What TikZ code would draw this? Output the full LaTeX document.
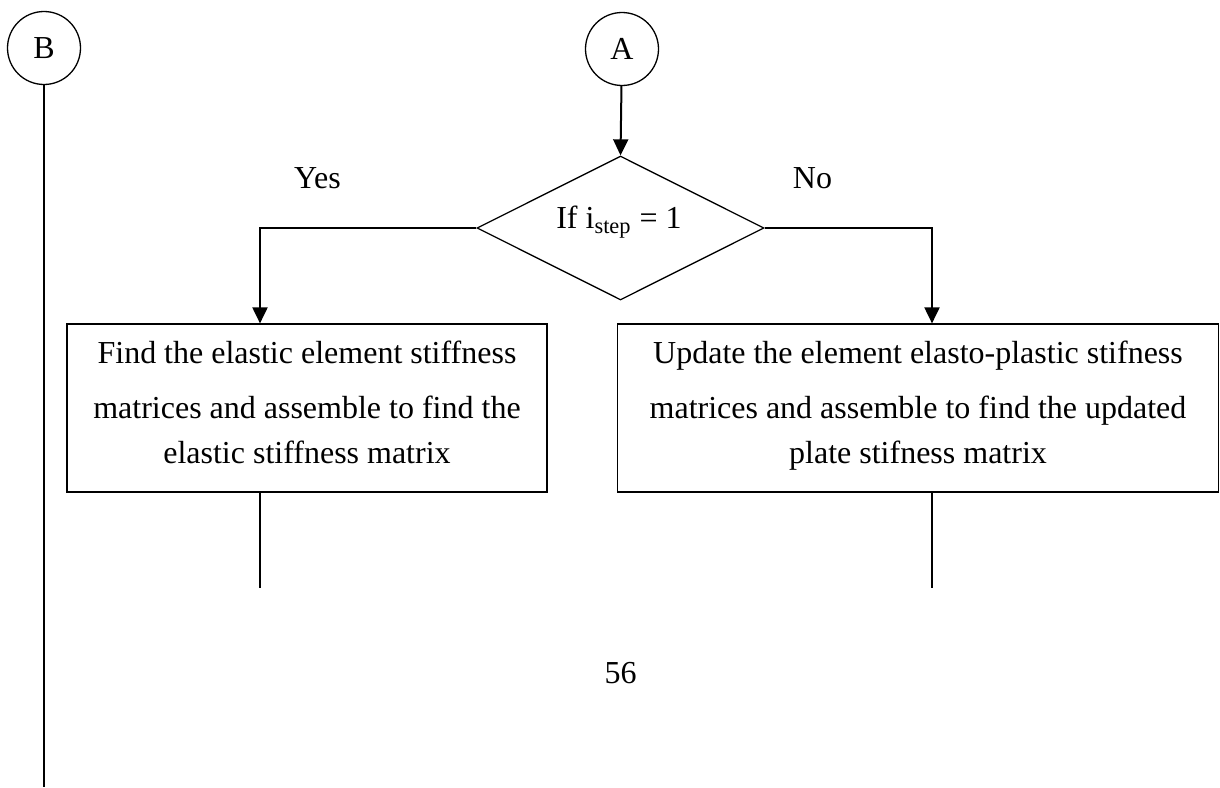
\documentclass[tikz,border=0pt]{standalone}
\usepackage{fontspec}
\setmainfont{Liberation Serif}
\usetikzlibrary{shapes.geometric,arrows.meta}
\begin{document}
\begin{tikzpicture}[x=0.5pt,y=-0.5pt,
  every node/.style={font=\fontsize{16}{22.5}\selectfont},
  connector/.style={draw,circle,line width=0.65pt,minimum size=36.5pt,inner sep=0pt},
  decision/.style={draw,diamond,line width=0.65pt,minimum width=143.5pt,minimum height=72pt,inner sep=0pt},
  processbox/.style={draw,rectangle,line width=0.6pt,minimum height=84pt,inner sep=0pt},
  boxtext/.style={align=center,inner sep=0pt},
  flow/.style={line width=1pt,-{Triangle[width=7.5pt,length=8pt]}},
  plain/.style={line width=1.1pt},
  stub/.style={line width=0.6pt},
  label/.style={anchor=base,inner sep=0pt}]
\useasboundingbox (0,0) rectangle (1220,787);

% off-page connectors
\node[connector] (B) at (44,48) {B};
\node[connector] (A) at (622,49) {A};

% decision on the step counter
\node[decision] (dec) at (620.5,228) {};
\node[label] (cond) at (619,228) {If i\textsubscript{step} = 1};
\node[label] (yes) at (317.5,188) {Yes};
\node[label] (no) at (812.5,188) {No};

% the two stiffness branches
\node[processbox,minimum width=240pt] (elastic) at (307,408) {};
\node[boxtext] (elastictext) at (307,402)
  {Find the elastic element stiffness\\[5pt] matrices and assemble to find the\\ elastic stiffness matrix};
\node[processbox,minimum width=300.5pt] (plastic) at (918,408) {};
\node[boxtext] (plastictext) at (918,405.5)
  {Update the element elasto-plastic stifness\\[5pt] matrices and assemble to find the updated\\ plate stifness matrix};

% page number
\node[label] (page) at (620.5,683) {56};

% routing points
\coordinate (yturn) at (260,228);
\coordinate (nturn) at (932,228);
\coordinate (bend) at (44,787);
\coordinate (lend) at (260,588);
\coordinate (rend) at (932,588);

\draw[flow] (A) -- (dec.north);
\draw[flow] (dec.west) -- (yturn) -- (yturn |- elastic.north);
\draw[flow] (dec.east) -- (nturn) -- (nturn |- plastic.north);
\draw[plain] (B) -- (bend);
\draw[stub] (lend |- elastic.south) -- (lend);
\draw[stub] (rend |- plastic.south) -- (rend);
\end{tikzpicture}
\end{document}
